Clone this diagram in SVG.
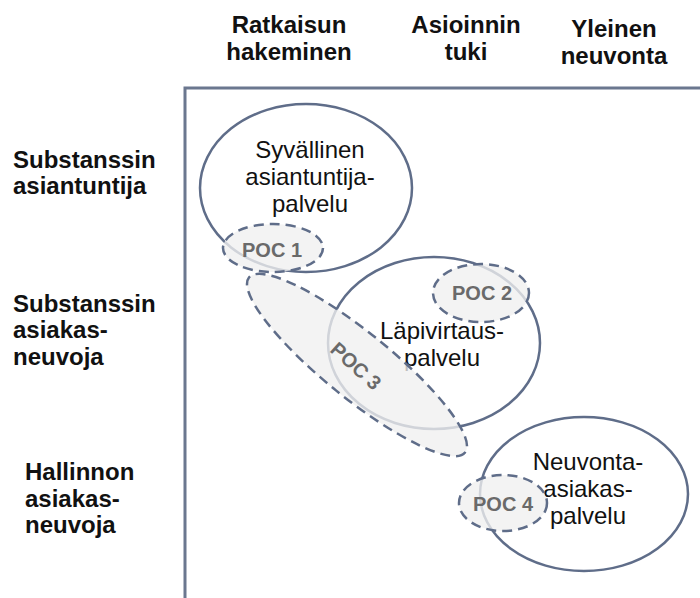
<svg xmlns="http://www.w3.org/2000/svg" width="700" height="598" viewBox="0 0 700 598">
<style>
.hdr{font-family:"Liberation Sans",Arial,sans-serif;font-weight:bold;font-size:24px;fill:#111}
.lbl{font-family:"Liberation Sans",Arial,sans-serif;font-size:24px;fill:#111}
.svc{fill:#fff;stroke:#5f6d89;stroke-width:2.5}
.poc{fill:#f0f0f0;fill-opacity:0.78;stroke:#5f6d89;stroke-width:2.5;stroke-dasharray:10 6}
.poct{font-family:"Liberation Sans",Arial,sans-serif;font-weight:bold;font-size:20px;fill:#6a6a6a}
</style>
<rect width="700" height="598" fill="#fff"/>
<g id="headers" class="hdr" text-anchor="middle">
<text x="289" y="33">Ratkaisun</text><text x="289" y="60">hakeminen</text>
<text x="466" y="33">Asioinnin</text><text x="466" y="60">tuki</text>
<text x="614" y="37">Yleinen</text><text x="614" y="64">neuvonta</text>
</g>
<g id="rows" class="hdr">
<text x="13" y="168">Substanssin</text><text x="13" y="194">asiantuntija</text>
<text x="13" y="312">Substanssin</text><text x="13" y="338">asiakas-</text><text x="13" y="365">neuvoja</text>
<text x="25" y="480">Hallinnon</text><text x="25" y="507">asiakas-</text><text x="25" y="533">neuvoja</text>
</g>
<g id="axes" fill="none" stroke="#6b778f" stroke-width="3">
<polyline points="185,598 185,88 700,88"/>
</g>
<g id="syvallinen">
<ellipse class="svc" cx="306" cy="188" rx="106" ry="84"/>
<text class="lbl" text-anchor="middle"><tspan x="310" y="158">Syvällinen</tspan><tspan x="310" y="185">asiantuntija-</tspan><tspan x="310" y="212">palvelu</tspan></text>
</g>
<g id="lapivirtaus">
<ellipse class="svc" cx="434" cy="343" rx="106" ry="86"/>
<text class="lbl" text-anchor="middle"><tspan x="442" y="339">Läpivirtaus-</tspan><tspan x="442" y="366">palvelu</tspan></text>
</g>
<g id="neuvonta">
<ellipse class="svc" cx="584" cy="494" rx="104" ry="77"/>
<text class="lbl" text-anchor="middle"><tspan x="588" y="470">Neuvonta-</tspan><tspan x="588" y="497">asiakas-</tspan><tspan x="588" y="524">palvelu</tspan></text>
</g>
<g id="poc1">
<ellipse class="poc" cx="273" cy="248" rx="50" ry="24"/>
<text class="poct" x="272" y="257" text-anchor="middle">POC 1</text>
</g>
<g id="poc2">
<ellipse class="poc" cx="481" cy="293" rx="48" ry="29"/>
<text class="poct" x="482" y="300" text-anchor="middle">POC 2</text>
</g>
<g id="poc3">
<ellipse class="poc" cx="357" cy="365" rx="139" ry="33" transform="rotate(39 357 365)"/>
<text class="poct" x="0" y="7" text-anchor="middle" transform="translate(356 366) rotate(42)">POC 3</text>
</g>
<g id="poc4">
<ellipse class="poc" cx="503" cy="503" rx="44" ry="28"/>
<text class="poct" x="503" y="511" text-anchor="middle">POC 4</text>
</g>
<g id="connectors"/>
</svg>
